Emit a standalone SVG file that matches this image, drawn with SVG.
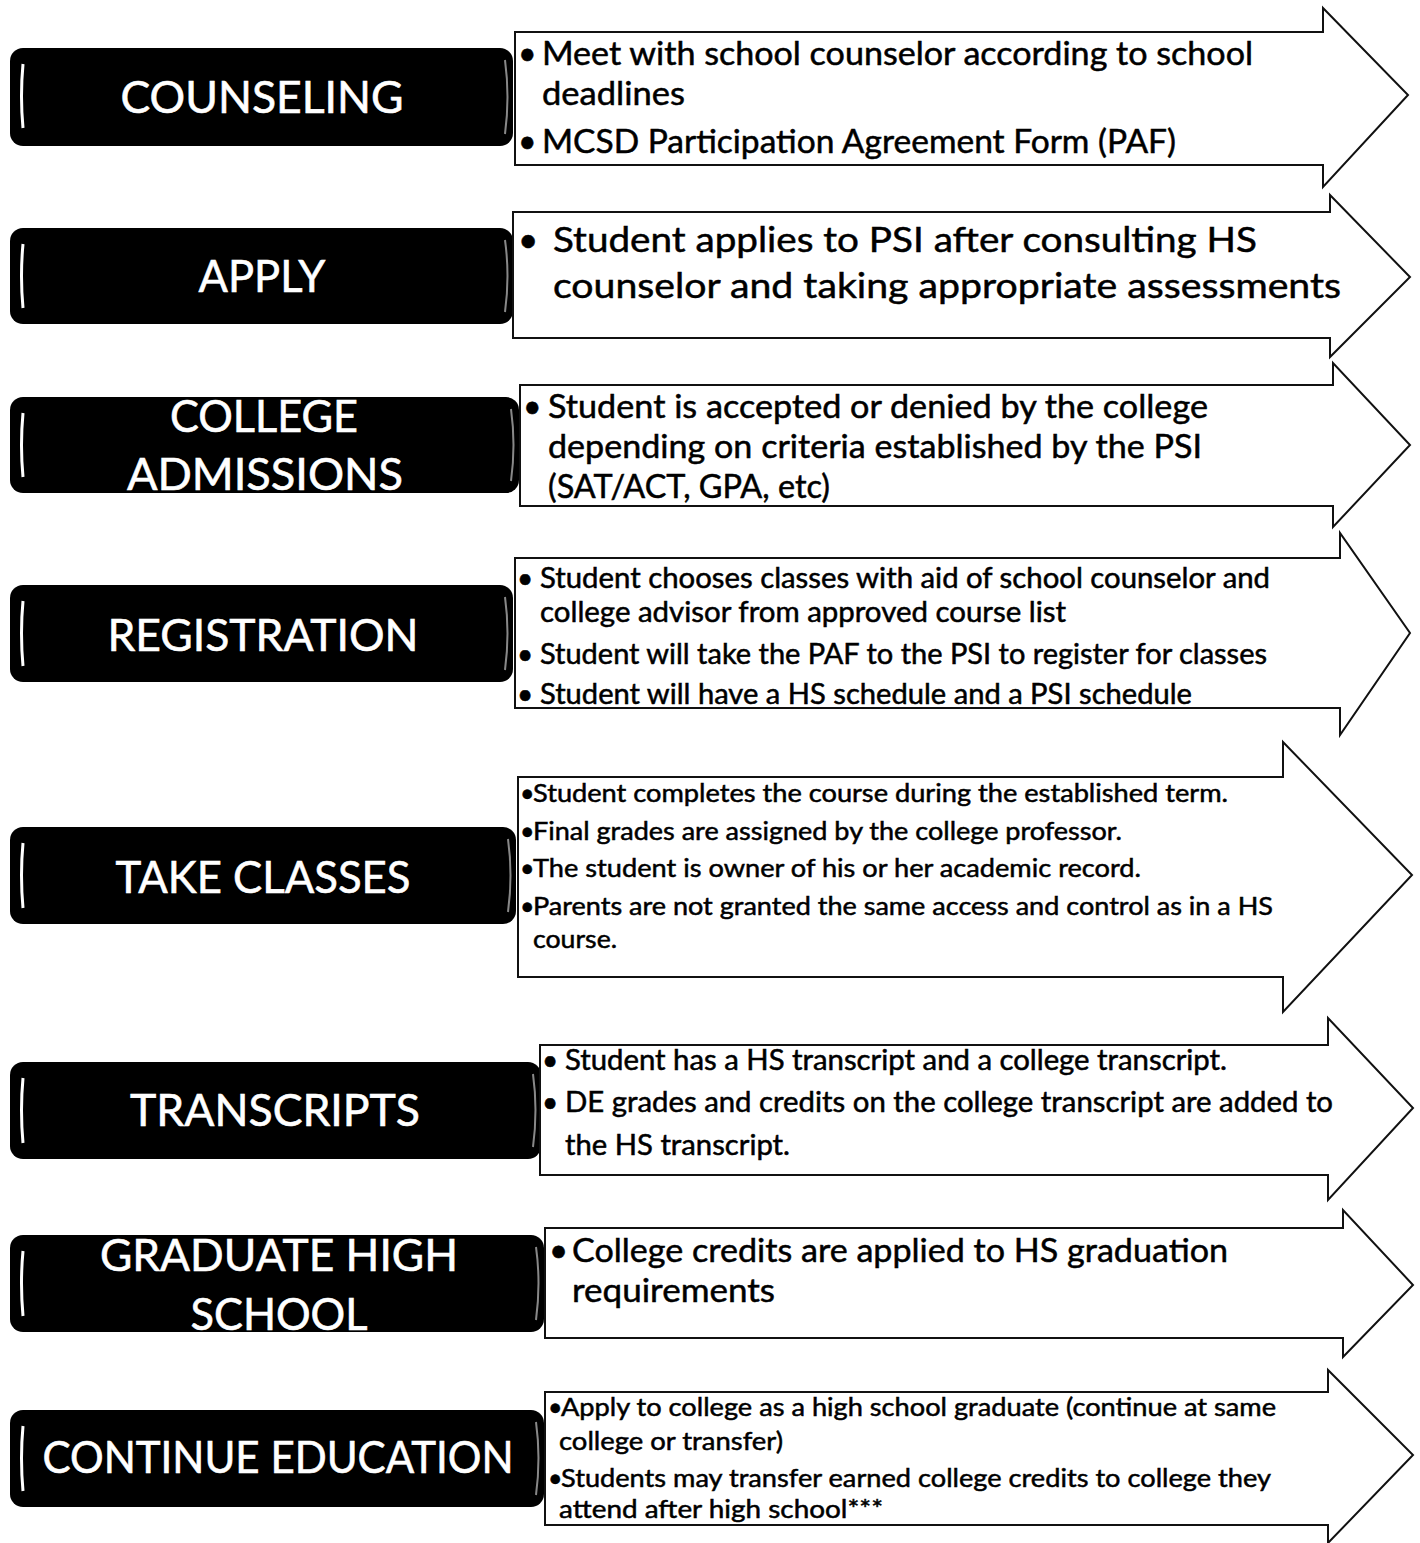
<svg xmlns="http://www.w3.org/2000/svg" width="1420" height="1543" viewBox="0 0 1420 1543">
<style>
.box{fill:#000}
.brk{fill:none;stroke:#fff;stroke-width:3}
.edge{fill:none;stroke:#888;stroke-width:2}
.arrow{fill:#fff;stroke:#111;stroke-width:2;stroke-linejoin:miter}
.lbl{font-family:Lato,"Open Sans",sans-serif;fill:#fff;stroke:#fff;stroke-width:0.6;font-size:45px;text-anchor:middle}
.t{font-family:Lato,"Open Sans",sans-serif;fill:#000;stroke:#000;stroke-width:0.5}
</style>
<rect width="1420" height="1543" fill="#fff"/>

<g id="counseling">
<rect class="box" x="10" y="48" width="503" height="98" rx="13"/>
<path class="brk" d="M23,64 Q20,96 23,128"/>
<path class="edge" d="M505,60 Q510,97 505,134"/>
<text class="lbl" x="262" y="113" textLength="283" lengthAdjust="spacingAndGlyphs">COUNSELING</text>
<path class="arrow" d="M515,32 H1323 V8 L1408,95 L1323,187 V165 H515 Z"/>
<g class="t" font-size="32">
<text x="518" y="65">•</text>
<text x="542" y="65" textLength="711" lengthAdjust="spacingAndGlyphs">Meet with school counselor according to school</text>
<text x="542" y="105" textLength="143" lengthAdjust="spacingAndGlyphs">deadlines</text>
<text x="518" y="153">•</text>
<text x="542" y="153" textLength="634" lengthAdjust="spacingAndGlyphs">MCSD Participation Agreement Form (PAF)</text>
</g>
</g>

<g id="apply">
<rect class="box" x="10" y="228" width="503" height="96" rx="13"/>
<path class="brk" d="M23,244 Q20,276 23,308"/>
<path class="edge" d="M505,240 Q510,276 505,312"/>
<text class="lbl" x="262" y="292" textLength="127" lengthAdjust="spacingAndGlyphs">APPLY</text>
<path class="arrow" d="M513,212 H1330 V195 L1410,277 L1330,357 V338 H513 Z"/>
<g class="t" font-size="35">
<text x="518" y="252">•</text>
<text x="553" y="252" textLength="704" lengthAdjust="spacingAndGlyphs">Student applies to PSI after consulting HS</text>
<text x="553" y="298" textLength="788" lengthAdjust="spacingAndGlyphs">counselor and taking appropriate assessments</text>
</g>
</g>

<g id="college-admissions">
<rect class="box" x="10" y="397" width="509" height="96" rx="13"/>
<path class="brk" d="M23,413 Q20,445 23,477"/>
<path class="edge" d="M511,409 Q516,445 511,481"/>
<text class="lbl" x="264" y="432" textLength="188" lengthAdjust="spacingAndGlyphs">COLLEGE</text>
<text class="lbl" x="265" y="490" textLength="276" lengthAdjust="spacingAndGlyphs">ADMISSIONS</text>
<path class="arrow" d="M520,385 H1333 V363 L1410,445 L1333,527 V506 H520 Z"/>
<g class="t" font-size="32">
<text x="523" y="418">•</text>
<text x="548" y="418" textLength="660" lengthAdjust="spacingAndGlyphs">Student is accepted or denied by the college</text>
<text x="548" y="458" textLength="654" lengthAdjust="spacingAndGlyphs">depending on criteria established by the PSI</text>
<text x="548" y="498" textLength="282" lengthAdjust="spacingAndGlyphs">(SAT/ACT, GPA, etc)</text>
</g>
</g>

<g id="registration">
<rect class="box" x="10" y="585" width="503" height="97" rx="13"/>
<path class="brk" d="M23,601 Q20,633 23,666"/>
<path class="edge" d="M505,597 Q510,633 505,670"/>
<text class="lbl" x="263" y="651" textLength="311" lengthAdjust="spacingAndGlyphs">REGISTRATION</text>
<path class="arrow" d="M515,558 H1340 V533 L1410,633 L1340,735 V708 H515 Z"/>
<g class="t" font-size="28">
<text x="517" y="588">•</text>
<text x="540" y="588" textLength="730" lengthAdjust="spacingAndGlyphs">Student chooses classes with aid of school counselor and</text>
<text x="540" y="622" textLength="526" lengthAdjust="spacingAndGlyphs">college advisor from approved course list</text>
<text x="517" y="664">•</text>
<text x="540" y="664" textLength="727" lengthAdjust="spacingAndGlyphs">Student will take the PAF to the PSI to register for classes</text>
<text x="517" y="704">•</text>
<text x="540" y="704" textLength="652" lengthAdjust="spacingAndGlyphs">Student will have a HS schedule and a PSI schedule</text>
</g>
</g>

<g id="take-classes">
<rect class="box" x="10" y="827" width="506" height="97" rx="13"/>
<path class="brk" d="M23,843 Q20,875 23,908"/>
<path class="edge" d="M508,839 Q513,875 508,912"/>
<text class="lbl" x="263" y="893" textLength="295" lengthAdjust="spacingAndGlyphs">TAKE CLASSES</text>
<path class="arrow" d="M518,777 H1283 V742 L1412,875 L1283,1012 V977 H518 Z"/>
<g class="t" font-size="25">
<text x="520" y="802">•</text>
<text x="533" y="802" textLength="695" lengthAdjust="spacingAndGlyphs">Student completes the course during the established term.</text>
<text x="520" y="840">•</text>
<text x="533" y="840" textLength="589" lengthAdjust="spacingAndGlyphs">Final grades are assigned by the college professor.</text>
<text x="520" y="877">•</text>
<text x="533" y="877" textLength="608" lengthAdjust="spacingAndGlyphs">The student is owner of his or her academic record.</text>
<text x="520" y="915">•</text>
<text x="533" y="915" textLength="740" lengthAdjust="spacingAndGlyphs">Parents are not granted the same access and control as in a HS</text>
<text x="533" y="948" textLength="84" lengthAdjust="spacingAndGlyphs">course.</text>
</g>
</g>

<g id="transcripts">
<rect class="box" x="10" y="1062" width="531" height="97" rx="13"/>
<path class="brk" d="M23,1078 Q20,1110 23,1143"/>
<path class="edge" d="M533,1074 Q538,1110 533,1147"/>
<text class="lbl" x="275" y="1126" textLength="290" lengthAdjust="spacingAndGlyphs">TRANSCRIPTS</text>
<path class="arrow" d="M540,1045 H1328 V1018 L1413,1108 L1328,1200 V1175 H540 Z"/>
<g class="t" font-size="28">
<text x="542" y="1070">•</text>
<text x="565" y="1070" textLength="662" lengthAdjust="spacingAndGlyphs">Student has a HS transcript and a college transcript.</text>
<text x="542" y="1112">•</text>
<text x="565" y="1112" textLength="768" lengthAdjust="spacingAndGlyphs">DE grades and credits on the college transcript are added to</text>
<text x="565" y="1155" textLength="225" lengthAdjust="spacingAndGlyphs">the HS transcript.</text>
</g>
</g>

<g id="graduate-high-school">
<rect class="box" x="10" y="1235" width="534" height="97" rx="13"/>
<path class="brk" d="M23,1251 Q20,1283 23,1316"/>
<path class="edge" d="M536,1247 Q541,1283 536,1320"/>
<text class="lbl" x="279" y="1271" textLength="358" lengthAdjust="spacingAndGlyphs">GRADUATE HIGH</text>
<text class="lbl" x="279" y="1330" textLength="177" lengthAdjust="spacingAndGlyphs">SCHOOL</text>
<path class="arrow" d="M545,1228 H1343 V1210 L1413,1285 L1343,1357 V1338 H545 Z"/>
<g class="t" font-size="33">
<text x="549" y="1262">•</text>
<text x="572" y="1262" textLength="656" lengthAdjust="spacingAndGlyphs">College credits are applied to HS graduation</text>
<text x="572" y="1302" textLength="203" lengthAdjust="spacingAndGlyphs">requirements</text>
</g>
</g>

<g id="continue-education">
<rect class="box" x="10" y="1410" width="534" height="97" rx="13"/>
<path class="brk" d="M23,1426 Q20,1458 23,1491"/>
<path class="edge" d="M536,1422 Q541,1458 536,1495"/>
<text class="lbl" x="278" y="1473" textLength="471" lengthAdjust="spacingAndGlyphs">CONTINUE EDUCATION</text>
<path class="arrow" d="M545,1392 H1328 V1370 L1413,1455 L1328,1543 V1525 H545 Z"/>
<g class="t" font-size="25">
<text x="548" y="1416">•</text>
<text x="561" y="1416" textLength="715" lengthAdjust="spacingAndGlyphs">Apply to college as a high school graduate (continue at same</text>
<text x="559" y="1450" textLength="224" lengthAdjust="spacingAndGlyphs">college or transfer)</text>
<text x="548" y="1487">•</text>
<text x="561" y="1487" textLength="710" lengthAdjust="spacingAndGlyphs">Students may transfer earned college credits to college they</text>
<text x="559" y="1518" textLength="324" lengthAdjust="spacingAndGlyphs">attend after high school***</text>
</g>
</g>
</svg>
